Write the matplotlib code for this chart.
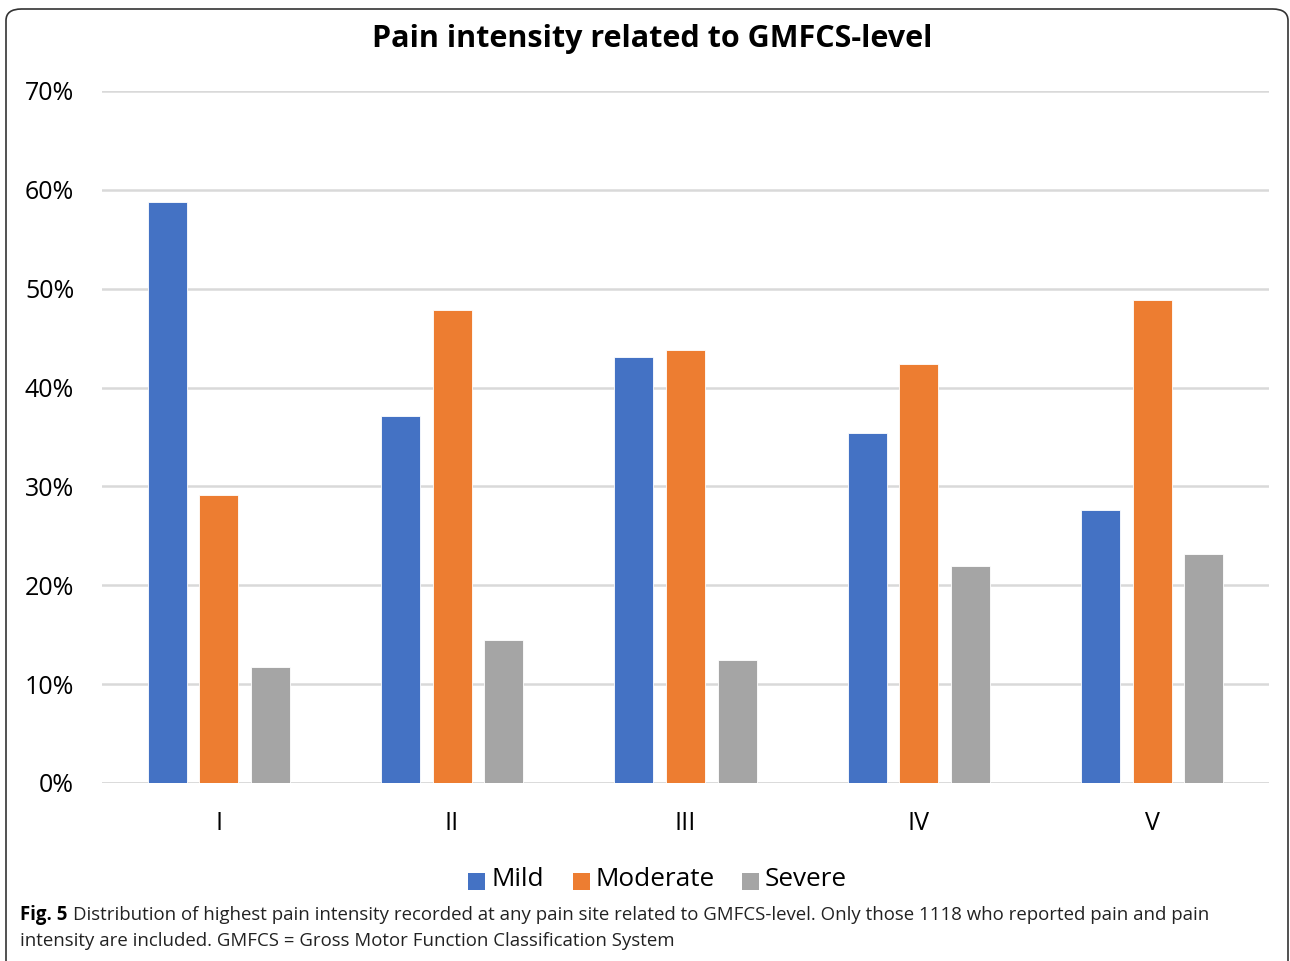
import matplotlib
matplotlib.use("Agg")
import matplotlib.pyplot as plt
import numpy as np
from matplotlib.patches import FancyBboxPatch, Rectangle

categories = ["I", "II", "III", "IV", "V"]
series_names = ["Mild", "Moderate", "Severe"]
mild = [58.8, 37.1, 43.1, 35.4, 27.6]
moderate = [29.1, 47.8, 43.8, 42.4, 48.9]
severe = [11.7, 14.5, 12.4, 22.0, 23.2]
yticks = [0, 10, 20, 30, 40, 50, 60, 70]
colors = ["#4472C4", "#ED7D31", "#A5A5A5"]

W, H = 1290, 961
fig = plt.figure(figsize=(W / 100, H / 100), dpi=100)
font = "Open Sans"

ax = fig.add_axes([102 / W, 1 - 783 / H, (1269 - 102) / W, (783 - 91) / H])
x = np.arange(len(categories))
width = 0.167
offs = [-0.221, 0.0, 0.221]
for vals, off, c in zip([mild, moderate, severe], offs, colors):
    ax.bar(x + off, vals, width=width, color=c, edgecolor="white", linewidth=0.6, zorder=3)

ax.set_xlim(-0.5, len(categories) - 0.5)
ax.set_ylim(0, 70)
ax.set_yticks(yticks)
ax.set_yticklabels([f"{t}%" for t in yticks], fontsize=18, family=font, color="#000000")
ax.set_xticks(x)
ax.set_xticklabels(categories, fontsize=18, family=font)
ax.tick_params(axis="both", length=0)
ax.tick_params(axis="y", pad=20)
ax.tick_params(axis="x", pad=20)
ax.grid(axis="y", color="#d9d9d9", linewidth=1.8, zorder=0)
for s in ax.spines.values():
    s.set_visible(False)
ax.axhline(0, color="#d9d9d9", linewidth=1.8, zorder=1)

fig.text(652 / W, 1 - 39 / H, "Pain intensity related to GMFCS-level", ha="center", va="center",
         fontsize=22.0, fontweight="bold", family=font)

# legend
leg_y = 1 - 881 / H
items = [(468, "Mild"), (573, "Moderate"), (742, "Severe")]
for (lx, name), c in zip(items, colors):
    fig.patches.append(Rectangle((lx / W, leg_y - 8.5 / H), 17 / W, 17 / H, transform=fig.transFigure,
                                 facecolor=c, edgecolor="none"))
    fig.text((lx + 23) / W, leg_y + 1.5 / H, name, ha="left", va="center", fontsize=18.8, family=font)

# caption
cap_font = font
line1 = "Distribution of highest pain intensity recorded at any pain site related to GMFCS-level. Only those 1118 who reported pain and pain"
line2 = "intensity are included. GMFCS = Gross Motor Function Classification System"
fs = 12.3
c0 = fig.text(20 / W, 1 - 915 / H, "Fig. 5", ha="left", va="center", fontsize=fs, fontweight="bold",
              family=cap_font)
t1 = fig.text(79 / W, 1 - 915 / H, line1, ha="left", va="center", fontsize=fs, family=cap_font,
              color="#222222")
t2 = fig.text(20 / W, 1 - 941 / H, line2, ha="left", va="center", fontsize=fs, family=cap_font,
              color="#222222")
target = 1212 - 79
for _ in range(6):
    fig.canvas.draw()
    r = fig.canvas.get_renderer()
    wpx = t1.get_window_extent(r).width
    fs = fs * target / wpx
    for t in (c0, t1, t2):
        t.set_fontsize(fs)
fig.canvas.draw()
r = fig.canvas.get_renderer()
fig_w = c0.get_window_extent(r).width
t1.set_x((20 + fig_w + 6) / W)

# frame
fig.patches.append(FancyBboxPatch((6 / W, -20 / H), (1288 - 6) / W, (H - 9 + 20) / H,
                                  boxstyle="round,pad=0,rounding_size=0.012",
                                  transform=fig.transFigure, facecolor="none",
                                  edgecolor="#333333", linewidth=1.2))

fig.savefig("out.png", dpi=100)
